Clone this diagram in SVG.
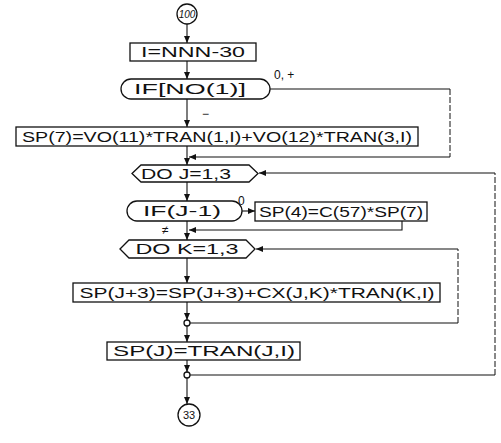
<svg xmlns="http://www.w3.org/2000/svg" width="501" height="443" viewBox="0 0 501 443">
<defs>
<marker id="ah" markerWidth="8" markerHeight="8" refX="7" refY="4" orient="auto" markerUnits="userSpaceOnUse">
<path d="M0,1 L7,4 L0,7 Z" fill="#111"/>
</marker>
<style>
.n{fill:#fff;stroke:#111;stroke-width:1.3}
.t{font-family:"Liberation Sans",Arial,sans-serif;font-size:14px;fill:#111;text-anchor:middle;dominant-baseline:central}
.l{font-family:"Liberation Sans",Arial,sans-serif;font-size:12px;fill:#111}
.c{fill:none;stroke:#111;stroke-width:1.1}
.d{fill:none;stroke:#111;stroke-width:1;stroke-dasharray:6 2}
.a{marker-end:url(#ah)}
</style>
</defs>
<rect width="501" height="443" fill="#fff"/>
<g id="connectors">
<line class="c a" x1="187" y1="24" x2="187" y2="43"/>
<line class="c a" x1="187" y1="61" x2="187" y2="79"/>
<path class="c" d="M270,89 H450"/>
<path class="d" d="M450,89 V157"/>
<path class="c a" d="M450,157 H189"/>
<line class="c a" x1="187" y1="99" x2="187" y2="127"/>
<line class="c a" x1="187" y1="146" x2="187" y2="165"/>
<path class="d" d="M495,375 V173"/>
<path class="c a" d="M495,173 H259"/>
<line class="c a" x1="187" y1="182" x2="187" y2="201"/>
<line class="c a" x1="242" y1="211" x2="255" y2="211"/>
<path class="c a" d="M402,221 V230 H189"/>
<line class="c a" x1="187" y1="221" x2="187" y2="240"/>
<path class="d" d="M458,323 V249"/>
<path class="c a" d="M458,249 H256"/>
<line class="c a" x1="187" y1="258" x2="187" y2="283"/>
<line class="c a" x1="187" y1="302" x2="187" y2="320"/>
<path class="c" d="M458,323 H190"/>
<line class="c a" x1="187" y1="326" x2="187" y2="342"/>
<line class="c a" x1="187" y1="360" x2="187" y2="372"/>
<path class="c" d="M495,375 H190"/>
<line class="c a" x1="187" y1="378" x2="187" y2="404"/>
<text class="l" x="274" y="79">0, +</text>
<text class="l" x="202" y="118">−</text>
<text class="l" x="238" y="205">0</text>
<text class="l" x="162" y="234">≠</text>
</g>
<g id="start">
<circle class="n" cx="187" cy="14" r="10"/>
<text class="t" x="187" y="14" style="font-size:10px;font-style:italic">100</text>
</g>
<g id="init">
<rect class="n" x="130" y="43" width="126" height="18"/>
<text class="t" x="193" y="52" textLength="104" lengthAdjust="spacingAndGlyphs">I=NNN-30</text>
</g>
<g id="if-no">
<rect class="n" x="121" y="79" width="149" height="20" rx="10"/>
<text class="t" x="190" y="89" textLength="112" lengthAdjust="spacingAndGlyphs">IF[NO(1)]</text>
</g>
<g id="sp7">
<rect class="n" x="16" y="127" width="402" height="19"/>
<text class="t" x="217" y="136.5" textLength="390" lengthAdjust="spacingAndGlyphs">SP(7)=VO(11)*TRAN(1,I)+VO(12)*TRAN(3,I)</text>
</g>
<g id="do-j">
<polygon class="n" points="132,173.5 141,165 249,165 258,173.5 249,182 141,182"/>
<text class="t" x="186" y="173.5" textLength="90" lengthAdjust="spacingAndGlyphs">DO J=1,3</text>
</g>
<g id="if-j">
<rect class="n" x="127" y="201" width="115" height="20" rx="10"/>
<text class="t" x="182" y="211" textLength="78" lengthAdjust="spacingAndGlyphs">IF(J-1)</text>
</g>
<g id="sp4">
<rect class="n" x="255" y="202" width="172" height="19"/>
<text class="t" x="341" y="211.5" textLength="164" lengthAdjust="spacingAndGlyphs">SP(4)=C(57)*SP(7)</text>
</g>
<g id="do-k">
<polygon class="n" points="120,249 129,240 246,240 255,249 246,258 129,258"/>
<text class="t" x="187" y="249" textLength="103" lengthAdjust="spacingAndGlyphs">DO K=1,3</text>
</g>
<g id="spj3">
<rect class="n" x="73" y="283" width="367" height="19"/>
<text class="t" x="257" y="292.5" textLength="355" lengthAdjust="spacingAndGlyphs">SP(J+3)=SP(J+3)+CX(J,K)*TRAN(K,I)</text>
</g>
<g id="junction-k">
<circle class="n" cx="187" cy="323" r="3"/>
</g>
<g id="spj">
<rect class="n" x="107" y="342" width="193" height="18"/>
<text class="t" x="204" y="351" textLength="182" lengthAdjust="spacingAndGlyphs">SP(J)=TRAN(J,I)</text>
</g>
<g id="junction-j">
<circle class="n" cx="187" cy="375" r="3"/>
</g>
<g id="end">
<circle class="n" cx="189" cy="415" r="11"/>
<text class="t" x="189" y="415" style="font-size:11px">33</text>
</g>
</svg>
